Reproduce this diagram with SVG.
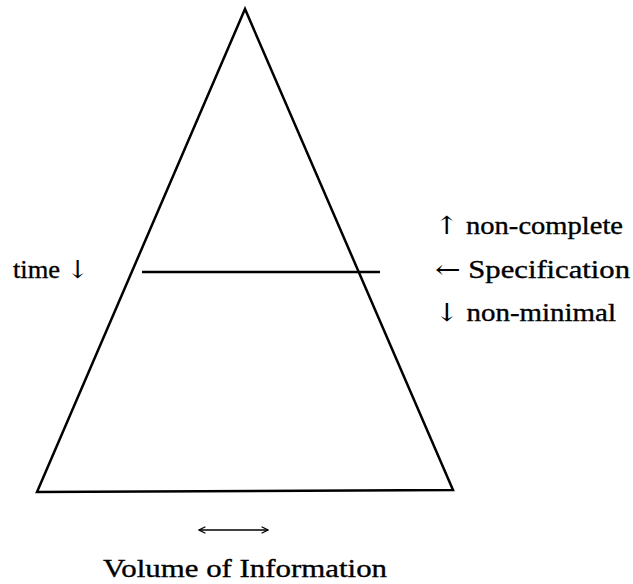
<svg xmlns="http://www.w3.org/2000/svg" width="633" height="584" viewBox="0 0 633 584">
<style>
.l{stroke:#000;stroke-width:2.5;fill:none;stroke-linejoin:miter}
.t{font-family:"Liberation Serif","DejaVu Serif",serif;font-size:25px;fill:#000;stroke:#000;stroke-width:0.35}
.a{font-family:"DejaVu Serif",serif;stroke-width:0}
</style>
<defs>
<marker id="ah" viewBox="0 0 10 10" refX="9" refY="5" markerWidth="8" markerHeight="8" orient="auto-start-reverse" markerUnits="userSpaceOnUse">
<path d="M1,1 L9,5 L1,9" fill="none" stroke="#000" stroke-width="1.6"/>
</marker>
</defs>
<rect width="633" height="584" fill="#fff"/>
<g id="pyramid">
<path class="l" d="M245,9 L37,492 L453,490 Z"/>
</g>
<g id="specification-line">
<line class="l" x1="142" y1="272" x2="380" y2="272"/>
</g>
<g id="connectors">
<line x1="199" y1="530" x2="268" y2="530" stroke="#000" stroke-width="1.6" marker-start="url(#ah)" marker-end="url(#ah)"/>
</g>
<g id="labels">
<text class="t" x="13" y="278" textLength="76" lengthAdjust="spacingAndGlyphs">time <tspan class="a">↓</tspan></text>
<text class="t" x="435" y="234" textLength="188" lengthAdjust="spacingAndGlyphs"><tspan class="a">↑</tspan> non-complete</text>
<text class="t" x="435" y="278" textLength="195" lengthAdjust="spacingAndGlyphs"><tspan class="a">←</tspan> Specification</text>
<text class="t" x="435" y="321" textLength="181" lengthAdjust="spacingAndGlyphs"><tspan class="a">↓</tspan> non-minimal</text>
<text class="t" x="103" y="577" textLength="284" lengthAdjust="spacingAndGlyphs">Volume of Information</text>
</g>
</svg>
